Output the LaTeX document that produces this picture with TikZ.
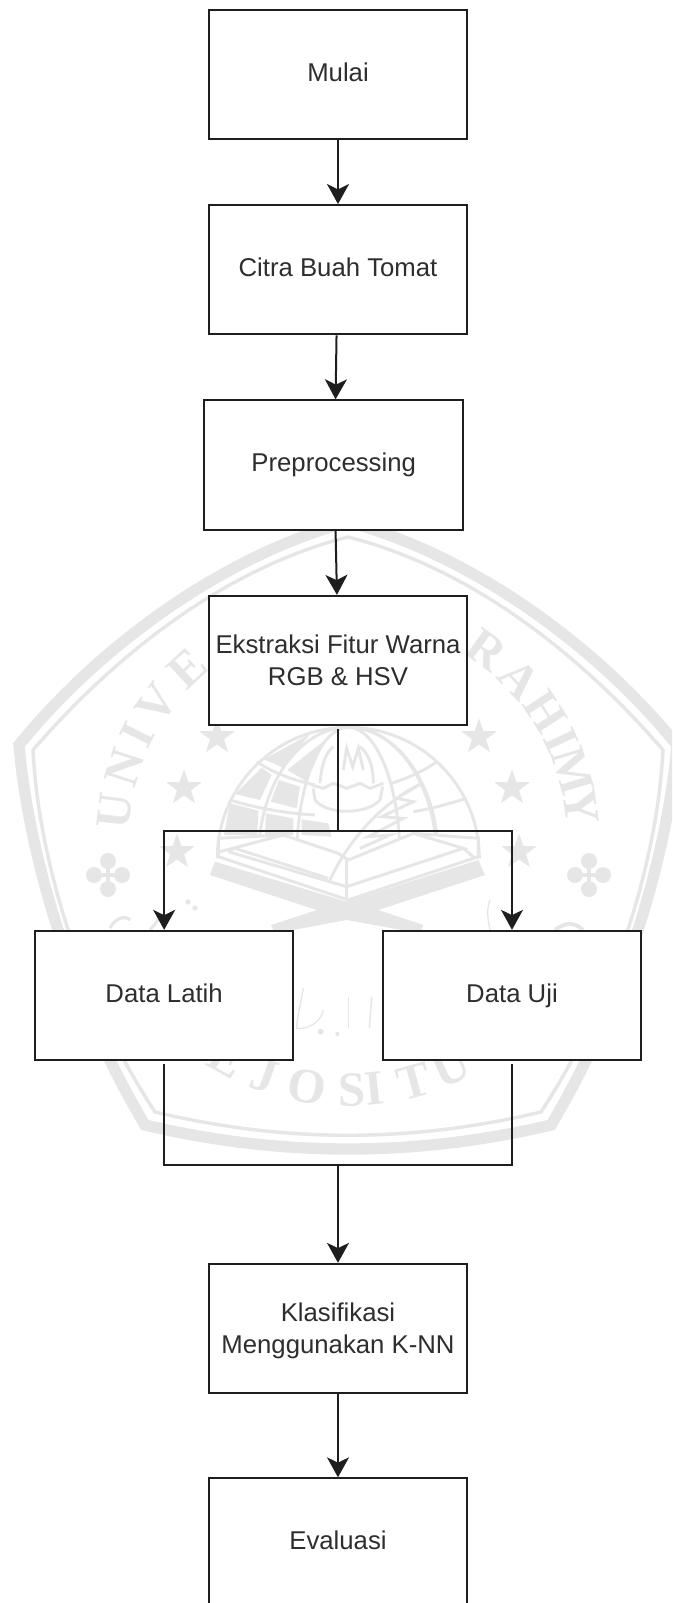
\documentclass[tikz,border=0pt]{standalone}
\usepackage{fontspec}
\setmainfont{Liberation Sans}
\newfontfamily\wmserif{Liberation Serif}
\newcommand{\wmfont}{\wmserif\bfseries\fontsize{37}{44}\selectfont}
\usetikzlibrary{arrows.meta,shapes.geometric}
\definecolor{wmgray}{HTML}{E6E6E6}
\definecolor{ink}{HTML}{1E1E1E}
\begin{document}
\begin{tikzpicture}[x=.75pt,y=-.75pt,
	stepbox/.style={draw=ink,fill=white,line width=1.5pt,minimum width=193.9pt,minimum height=97pt,inner sep=0pt,align=center,font=\fontsize{19.3}{24}\selectfont,text=black!82,text height=15pt,text depth=5.2pt},
	twoline/.style={text height=38pt,text depth=1.2pt},
	flow/.style={draw=ink,line width=1.5pt,-{Stealth[length=15pt,width=16.5pt,inset=4pt]}},
	link/.style={draw=ink,line width=1.5pt},
	wmline/.style={draw=wmgray,line width=2.2pt},
	wmstar/.style={star,star points=5,star point ratio=2.5,fill=wmgray,inner sep=0pt,minimum size=28pt},
	wmletter/.style={text=wmgray,font=\wmfont,inner sep=0pt}]
	\clip (0,0) rectangle (672,1603);
	\draw[draw=wmgray,line width=8.5pt] (19,745) .. controls (100,645) and (225,555) .. (348,522) .. controls (471,555) and (596,645) .. (677,745) .. controls (668,850) and (626,1000) .. (551,1125) .. controls (416,1157) and (280,1157) .. (145,1125) .. controls (70,1000) and (28,850) .. (19,745) -- cycle;
	\draw[draw=wmgray,line width=2.6pt] (33,750) .. controls (115,655) and (225,568) .. (348,537) .. controls (471,568) and (581,655) .. (663,750) .. controls (658,850) and (621,990) .. (541,1112) .. controls (411,1143) and (285,1143) .. (155,1112) .. controls (75,990) and (38,850) .. (33,750) -- cycle;
	\foreach \i/\x/\y in {1/217/737,2/184/788,3/177/852,4/479/737,5/512/788,6/519/852}
	{
		\node[wmstar] (star\i) at (\x,\y) {};
	}
	\foreach \x in {108,589}
	{
		\fill[wmgray] (\x,861) circle (6pt) (\x,889) circle (6pt) (\x-14,875) circle (6pt) (\x+14,875) circle (6pt);
		\draw[wmgray,line width=3.5pt] (\x,861) -- (\x,889) (\x-14,875) -- (\x+14,875);
	}
	\foreach \i/\c/\a in {1/U/-83,2/N/-72,3/I/-63.5,4/V/-54.5,5/E/-43,6/R/36,7/A/46.8,8/H/57,9/I/65,10/M/73,11/Y/82}
	{
		\node[wmletter,rotate=-\a] (top\i) at ({348+235*sin(\a)},{840-235*cos(\a)}) {\c};
	}
	\foreach \i/\c/\a in {1/E/-29,2/J/-19.5,3/O/-9.4,4/S/1,5/I/6,6/T/15.3,7/U/24.4}
	{
		\node[wmletter,rotate=\a] (low\i) at ({348+250*sin(\a)},{840+250*cos(\a)}) {\c};
	}
	\begin{scope}[shift={(200,720)},x=.25pt,y=-.25pt]
		\fill[wmgray] (192,118) -- (330,42) -- (250,143) -- cycle (262,150) -- (375,60) -- (320,185) -- cycle (105,222) -- (185,143) -- (215,165) -- (180,240) -- cycle (212,245) -- (237,180) -- (300,200) -- (290,265) -- cycle (72,345) -- (90,250) -- (175,272) -- (172,345) -- cycle (195,345) -- (198,280) -- (280,295) -- (280,345) -- cycle (305,345) -- (305,298) -- (385,310) -- (395,350) -- cycle;
		\draw[wmline] (52,415) arc[start angle=180,end angle=360,x radius=393,y radius=393];
		\draw[wmline] (175,415) arc[start angle=180,end angle=360,x radius=270,y radius=393];
		\draw[wmline] (290,415) arc[start angle=180,end angle=270,x radius=155,y radius=393];
		\draw[wmline] (710,415) arc[start angle=0,end angle=-90,x radius=265,y radius=393];
		\draw[wmline] (600,415) arc[start angle=0,end angle=-90,x radius=155,y radius=393];
		\draw[wmline] (170,125) .. controls (220,160) and (280,180) .. (345,195);
		\draw[wmline] (90,240) .. controls (170,265) and (260,280) .. (345,285);
		\draw[wmline] (710,125) .. controls (670,155) and (620,175) .. (575,190);
		\draw[wmline] (800,235) .. controls (750,250) and (700,265) .. (640,275);
		\draw[wmline] (360,190) .. controls (365,120) and (385,90) .. (400,80);
		\draw[wmline] (430,150) -- (440,85) -- (458,140) -- (475,85) -- (490,150);
		\draw[wmline] (520,190) .. controls (520,130) and (500,95) .. (480,80);
		\draw[wmline] (335,195) -- (370,205) -- (400,190) -- (440,205) -- (480,190) -- (510,205) -- (550,190);
		\draw[wmline] (340,205) -- (345,240) .. controls (380,285) and (500,285) .. (540,240) -- (548,200);
		\filldraw[wmline,fill=white] (55,355) -- (250,345) -- (415,400) -- (445,420) -- (640,340) -- (835,355) -- (835,410) -- (445,540) -- (55,410) -- cycle;
		\draw[wmline] (60,395) -- (250,345);
		\draw[wmline] (85,395) -- (105,385) -- (385,475);
		\draw[wmline] (85,395) -- (440,500) -- (790,385) -- (640,340);
		\draw[wmline] (440,420) -- (440,540);
		\draw[wmline] (790,385) -- (825,415);
		\draw[wmline] (390,480) .. controls (440,370) and (540,250) .. (665,190);
		\draw[wmline] (665,190) -- (590,235) -- (640,245) -- (545,290) -- (610,295) -- (505,350) -- (570,345) -- (480,385);
		\fill[wmgray] (45,425) -- (440,545) -- (835,420) -- (855,465) -- (535,570) -- (670,615) -- (660,640) -- (440,600) -- (225,640) -- (213,615) -- (350,570) -- (30,465) -- cycle;
	\end{scope}
	\begin{scope}[shift={(280,930)},x=.25pt,y=-.25pt]
		\draw[wmline,line width=1pt] (70,175) .. controls (60,230) and (50,270) .. (50,295) .. controls (90,300) and (125,270) .. (130,240);
		\draw[wmline,line width=1.2pt] (205,200) -- (205,295);
		\draw[wmline,line width=1.2pt] (275,200) -- (268,295);
		\fill[wmgray] (122,305) circle (2.2pt) (172,312) circle (1.6pt);
	\end{scope}
	\draw[wmline,line width=2.4pt] (110,928) .. controls (115,918) and (125,915) .. (130,920);
	\draw[wmline,line width=2.4pt] (150,930) -- (160,918);
	\fill[wmgray] (188,902) circle (2pt) (195,908) circle (2pt);
	\draw[wmline,line width=1pt] (490,900) .. controls (486,910) and (488,920) .. (490,930);
	\draw[wmline,line width=3pt] (555,930) .. controls (565,922) and (575,922) .. (583,930);
	\node[stepbox] (mulai) at (338,74.5) {Mulai};
	\node[stepbox] (citra) at (338,269.7) {Citra Buah Tomat};
	\node[stepbox] (prep) at (333.7,465) {Preprocessing};
	\node[stepbox,twoline] (ekstraksi) at (338,660.5) {Ekstraksi Fitur Warna\\RGB \& HSV};
	\node[stepbox] (latih) at (164.15,995.5) {Data Latih};
	\node[stepbox] (uji) at (512,995.5) {Data Uji};
	\node[stepbox,twoline] (klasifikasi) at (338,1328.5) {Klasifikasi\\Menggunakan K-NN};
	\node[stepbox] (evaluasi) at (338,1543) {Evaluasi};
	\coordinate (split) at (338,831);
	\coordinate (merge) at (338,1165);
	\draw[flow] (mulai) -- (citra);
	\draw[flow] ([xshift=-1.1pt]citra.south) -- ([xshift=1.4pt]prep.north);
	\draw[flow] ([xshift=1.4pt]prep.south) -- ([xshift=-.8pt]ekstraksi.north);
	\draw[link] ([yshift=-2.2pt]ekstraksi.south) -- (split);
	\draw[flow] (split) -| (latih.north);
	\draw[flow] (split) -| (uji.north);
	\draw[link] ([yshift=-2.2pt]latih.south) |- (merge);
	\draw[link] ([yshift=-2.2pt]uji.south) |- (merge);
	\draw[flow] (merge) -- (klasifikasi);
	\draw[flow] (klasifikasi) -- (evaluasi);
\end{tikzpicture}
\end{document}
